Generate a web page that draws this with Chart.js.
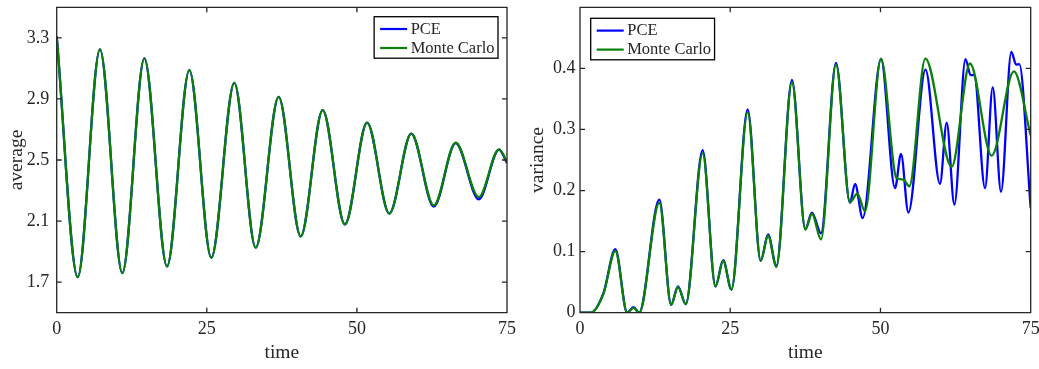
<!DOCTYPE html>
<html>
<head>
<meta charset="utf-8">
<script src="https://cdn.jsdelivr.net/npm/chart.js@4.4.1/dist/chart.umd.min.js"></script>
<style>
  html, body { margin: 0; padding: 0; background: #fff; }
  #wrap { position: relative; width: 1039px; height: 369px; overflow: hidden; }
  .panel { position: absolute; top: 0; height: 369px; }
</style>
</head>
<body>
<div id="wrap">
  <div class="panel" style="left:0;width:520px"><canvas id="avgChart" width="520" height="369"></canvas></div>
  <div class="panel" style="left:520px;width:519px"><canvas id="varChart" width="519" height="369"></canvas></div>
</div>
<script>
// ---- average of the solution over time ----
const avgTime = [0, 3.5, 7.2, 10.93, 14.6, 18.37, 22.09, 25.75, 29.58, 33.14, 36.97, 40.64,
                 44.3, 48.0, 51.7, 55.4, 59.06, 62.8, 66.45, 70.3, 73.67, 75];
const avgPce  = [3.31, 1.733, 3.224, 1.759, 3.165, 1.803, 3.088, 1.86, 3.005, 1.926, 2.913, 2.0,
                 2.826, 2.078, 2.745, 2.149, 2.673, 2.195, 2.61, 2.242, 2.568, 2.48];
const avgMc   = [3.31, 1.733, 3.224, 1.759, 3.165, 1.803, 3.088, 1.86, 3.005, 1.926, 2.913, 2.0,
                 2.826, 2.078, 2.745, 2.149, 2.673, 2.203, 2.614, 2.257, 2.570, 2.49];

// ---- variance over time ----
const varPceTime = [0, 1.8, 3.9, 5.88, 7.85, 8.9, 9.85, 13.2, 15.17, 16.3, 17.6, 20.41, 22.55, 23.82,
                    25.2, 27.9, 30.07, 31.3, 32.68, 35.27, 37.5, 38.6, 40.1, 42.6, 44.93, 45.77,
                    47.04, 50.09, 52.42, 53.42, 54.64, 57.5, 59.9, 61.02, 62.3, 64.15, 65.0, 65.6,
                    67.4, 68.68, 70.06, 71.78, 72.58, 73.1, 75];
const varPce     = [0, 0, 0.032, 0.104, 0.0, 0.009, 0.0, 0.185, 0.013, 0.043, 0.014, 0.266, 0.043, 0.086,
                    0.038, 0.333, 0.085, 0.128, 0.077, 0.381, 0.137, 0.164, 0.130, 0.409, 0.180, 0.211,
                    0.155, 0.415, 0.204, 0.260, 0.164, 0.398, 0.211, 0.311, 0.177, 0.415, 0.389, 0.389,
                    0.204, 0.369, 0.198, 0.427, 0.406, 0.407, 0.171];
const varMcTime  = [0, 1.8, 3.9, 5.88, 7.85, 8.9, 9.85, 13.2, 15.17, 16.3, 17.6, 20.41, 22.55, 23.82,
                    25.2, 27.9, 30.07, 31.3, 32.68, 35.27, 37.5, 38.6, 40.1, 42.6, 44.93, 46.15,
                    47.43, 50.09, 52.7, 53.8, 54.8, 57.47, 61.85, 64.9, 68.5, 72.2, 75];
const varMc      = [0, 0, 0.031, 0.101, 0.0, 0.008, 0.0, 0.180, 0.013, 0.042, 0.014, 0.261, 0.043, 0.085,
                    0.038, 0.328, 0.085, 0.126, 0.075, 0.377, 0.136, 0.162, 0.120, 0.406, 0.181, 0.195,
                    0.166, 0.416, 0.220, 0.218, 0.207, 0.416, 0.239, 0.408, 0.257, 0.395, 0.290];

const timeTicks = [0, 25, 50, 75];
const avgTicks  = [1.7, 2.1, 2.5, 2.9, 3.3];
const varTicks  = [0, 0.1, 0.2, 0.3, 0.4];

const AXIS_COLOR = '#262626';
const PCE_COLOR = '#0000ff';
const MC_COLOR = '#0a800a';
const SERIF = '"Liberation Serif", "Times New Roman", serif';
const TICK_LEN = 5;

const toPoints = (xs, ys) => xs.map((x, i) => ({ x, y: ys[i] }));

// box around the axes with inward tick marks on all four sides
const axisFrame = {
  id: 'axisFrame',
  afterDatasetsDraw(chart) {
    const { ctx, chartArea: a, scales: { x, y } } = chart;
    ctx.save();
    ctx.strokeStyle = AXIS_COLOR;
    ctx.lineWidth = 1.3;
    ctx.beginPath();
    x.ticks.forEach(t => {
      const px = x.getPixelForValue(t.value);
      ctx.moveTo(px, a.bottom); ctx.lineTo(px, a.bottom - TICK_LEN);
      ctx.moveTo(px, a.top); ctx.lineTo(px, a.top + TICK_LEN);
    });
    y.ticks.forEach(t => {
      const py = y.getPixelForValue(t.value);
      ctx.moveTo(a.left, py); ctx.lineTo(a.left + TICK_LEN, py);
      ctx.moveTo(a.right, py); ctx.lineTo(a.right - TICK_LEN, py);
    });
    ctx.rect(a.left, a.top, a.right - a.left, a.bottom - a.top);
    ctx.stroke();
    ctx.restore();
  }
};

// legend in a framed box inside the axes
const boxLegend = {
  id: 'boxLegend',
  afterDraw(chart, args, opts) {
    const { ctx, chartArea: a } = chart;
    const items = chart.data.datasets;
    ctx.save();
    ctx.font = '16.5px ' + SERIF;
    const textW = Math.max(...items.map(d => ctx.measureText(d.label).width));
    const w = 36.5 + textW + 3.5, h = 41.5;
    const left = opts.side === 'right' ? a.right - opts.dx - w : a.left + opts.dx;
    const top = a.top + opts.dy;
    ctx.fillStyle = '#fff';
    ctx.fillRect(left, top, w, h);
    ctx.strokeStyle = '#000';
    ctx.lineWidth = 1.3;
    ctx.strokeRect(left, top, w, h);
    items.forEach((d, i) => {
      const cy = top + 12.3 + i * 19;
      ctx.strokeStyle = d.borderColor;
      ctx.lineWidth = 2.2;
      ctx.beginPath();
      ctx.moveTo(left + 6, cy);
      ctx.lineTo(left + 33, cy);
      ctx.stroke();
      ctx.fillStyle = AXIS_COLOR;
      ctx.textBaseline = 'middle';
      ctx.fillText(d.label, left + 36.5, cy + 0.5);
    });
    ctx.restore();
  }
};

function makeChart(id, pce, mc, yTicks, yMin, yMax, yTitle, cfg) {
  return new Chart(document.getElementById(id), {
    type: 'line',
    data: {
      datasets: [
        { label: 'PCE', data: pce, borderColor: PCE_COLOR, order: 1 },
        { label: 'Monte Carlo', data: mc, borderColor: MC_COLOR, order: 0 }
      ]
    },
    options: {
      responsive: false,
      animation: false,
      events: [],
      layout: { padding: { left: 0, top: 7.3, right: cfg.padRight, bottom: 0 } },
      elements: {
        point: { radius: 0 },
        line: { borderWidth: 2.3, cubicInterpolationMode: 'monotone', fill: false }
      },
      plugins: {
        legend: { display: false },
        tooltip: { enabled: false },
        boxLegend: cfg.legend
      },
      scales: {
        x: {
          type: 'linear', min: 0, max: 75,
          grid: { display: false, drawTicks: false }, border: { display: false },
          afterBuildTicks: s => { s.ticks = timeTicks.map(v => ({ value: v })); },
          afterFit: s => { s.height = 56.3; s.paddingLeft = 0; s.paddingRight = 0; },
          ticks: { color: AXIS_COLOR, padding: 5.5, maxRotation: 0, autoSkip: false,
                   font: { family: SERIF, size: 18 }, callback: v => String(v) },
          title: { display: true, text: 'time', color: AXIS_COLOR,
                   font: { family: SERIF, size: 19.5 }, padding: { top: 0, bottom: 4.6 } }
        },
        y: {
          type: 'linear', min: yMin, max: yMax,
          grid: { display: false, drawTicks: false }, border: { display: false },
          afterBuildTicks: s => { s.ticks = yTicks.map(v => ({ value: v })); },
          afterFit: s => { s.width = cfg.yWidth; s.paddingTop = 0; s.paddingBottom = 0; },
          ticks: { color: AXIS_COLOR, padding: cfg.labelGap, autoSkip: false,
                   font: { family: SERIF, size: 18 }, callback: v => String(v) },
          title: { display: true, text: yTitle, color: AXIS_COLOR,
                   font: { family: SERIF, size: 19.5 }, padding: { top: cfg.titlePad, bottom: 0 } }
        }
      }
    },
    plugins: [axisFrame, boxLegend]
  });
}

makeChart('avgChart', toPoints(avgTime, avgPce), toPoints(avgTime, avgMc),
  avgTicks, 1.5, 3.5, 'average',
  { padRight: 13, yWidth: 56.7, labelGap: 7.5, titlePad: 5,
    legend: { side: 'right', dx: 9, dy: 9.4 } });

makeChart('varChart', toPoints(varPceTime, varPce), toPoints(varMcTime, varMc),
  varTicks, 0, 0.5, 'variance',
  { padRight: 8.3, yWidth: 60, labelGap: 4.5, titlePad: 6.6,
    legend: { side: 'left', dx: 10.7, dy: 11 } });
</script>
</body>
</html>
